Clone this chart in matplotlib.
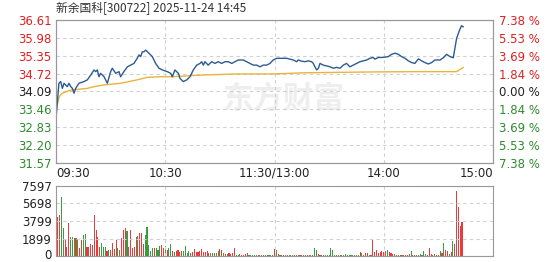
import matplotlib
matplotlib.use("Agg")
import matplotlib.pyplot as plt
from matplotlib.transforms import ScaledTranslation

plt.rcParams['font.family'] = ['DejaVu Sans', 'Noto Sans CJK SC']

TITLE = "新余国科[300722] 2025-11-24 14:45"
PREV_CLOSE = 34.09
price_ticks = [36.61, 35.98, 35.35, 34.72, 34.09, 33.46, 32.83, 32.20, 31.57]
pct_labels = ["7.38 %", "5.53 %", "3.69 %", "1.84 %", "0.00 %", "1.84 %", "3.69 %", "5.53 %", "7.38 %"]
vol_ticks = [0, 1899, 3799, 5698, 7597]
time_labels = ["09:30", "10:30", "11:30/13:00", "14:00", "15:00"]

# minutes since open, price
price_t = [0, 1.6, 2.6, 3.5, 4.4, 5.3, 6.2, 7.1, 8.1, 9, 9.9, 10.8, 12.6, 15.4, 17.2, 19.1,
           20.9, 21.8, 22.7, 23.6, 24.5, 26.4, 28.2, 30, 30.9, 32.8, 34.6, 35.5, 37.3, 39.2,
           41, 42.8, 44.6, 45.6, 46.5, 47.4, 48.3, 49.3, 51, 52.9, 53.8, 54.7, 56.6, 58.4,
           61.1, 63, 63.9, 65.3, 67.2, 68.1, 69.9, 71.8, 73.6, 75.4, 77.3, 79.1, 80, 80.9,
           81.8, 83.6, 85.5, 87.3, 89.1, 91, 92.8, 94.6, 96.5, 98.3, 100.1, 102.9, 104.7,
           106.5, 108.3, 110.2, 112, 113.8, 115.7, 117.5, 119.3, 121.2, 123, 124.8, 126.7,
           128.5, 130.3, 132.2, 133, 134.9, 136.7, 138.5, 140.4, 141.3, 142.2, 143.2, 144.1,
           145, 146.8, 148.7, 150.5, 152.3, 154.1, 156, 157.8, 159.6, 161.4, 163.3, 165.1,
           166.9, 168.8, 170.6, 172.4, 174.2, 175.2, 177, 178.9, 180.7, 182.5, 184.3, 186.2,
           188, 189.8, 191.7, 193.5, 195.3, 197.1, 199, 200.8, 202.6, 204.5, 206.3, 208.1,
           210.9, 212.7, 214.5, 216.4, 218.2, 219.1, 220, 221.3, 222.7, 223.6]
price = [33.14, 34.38, 34.44, 34.20, 34.38, 34.32, 34.26, 34.38, 34.26, 34.20, 34.03, 34.20,
         34.38, 34.44, 34.50, 34.67, 34.85, 34.79, 34.85, 34.61, 34.73, 34.61, 34.38, 34.79,
         34.91, 34.73, 34.79, 34.61, 34.79, 34.96, 35.02, 35.08, 35.26, 35.38, 35.32, 35.49,
         35.49, 35.55, 35.44, 35.32, 35.20, 35.08, 34.91, 34.85, 34.79, 34.73, 34.61, 34.85,
         34.73, 34.55, 34.44, 34.50, 34.61, 34.85, 35.02, 35.08, 35.14, 35.02, 35.14, 35.02,
         35.14, 35.08, 35.14, 35.08, 35.14, 35.14, 35.08, 35.14, 35.20, 35.20, 35.14, 35.08,
         35.02, 35.02, 34.96, 35.02, 35.02, 35.08, 35.20, 35.26, 35.26, 35.26, 35.26, 35.23,
         35.20, 35.14, 35.20, 35.16, 35.14, 35.17, 35.14, 35.08, 34.96, 34.85, 34.91, 35.08,
         35.02, 34.99, 34.96, 34.91, 34.94, 34.91, 35.02, 35.08, 34.96, 35.02, 35.08, 35.14,
         35.17, 35.20, 35.26, 35.29, 35.23, 35.29, 35.29, 35.30, 35.32, 35.40, 35.44, 35.40,
         35.32, 35.26, 35.17, 35.11, 35.08, 35.24, 35.17, 35.11, 35.06, 35.11, 35.20, 35.20,
         35.28, 35.40, 35.32, 35.28, 35.61, 35.96, 36.20, 36.41, 36.37]

avg_t = [0, 1.8, 3.5, 8.1, 17.2, 20.9, 26.4, 35.5, 44.6, 50.1, 57.5, 63.9, 80, 100.1, 120,
         136.7, 175, 200, 220, 223.6]
avg_price = [33.44, 33.91, 34.03, 34.14, 34.20, 34.26, 34.32, 34.38, 34.50, 34.59, 34.61,
             34.61, 34.67, 34.71, 34.71, 34.75, 34.78, 34.79, 34.79, 34.94]

# volume per minute, r = up, g = down
volume = [5180, 4270, 4450, 6370, 3000, 1810, 1010, 3620, 2030, 2030,
          1920, 1920, 1880, 830, 1740, 2280, 2390, 1010, 1010, 1300,
          1200, 4450, 2820, 2100, 1010, 1380, 1010, 1010, 580, 650,
          650, 1450, 720, 1740, 830, 650, 1920, 2820, 3000, 2710,
          1010, 2820, 830, 1010, 2100, 2170, 2530, 2530, 1300, 2280,
          3190, 1200, 540, 830, 900, 830, 650, 1090, 1200, 830,
          1090, 650, 900, 1300, 580, 470, 580, 650, 470, 580,
          540, 1090, 360, 540, 360, 470, 720, 470, 400, 540,
          720, 470, 470, 580, 360, 290, 330, 360, 290, 540,
          800, 650, 360, 220, 180, 290, 180, 290, 830, 140,
          140, 180, 120, 150, 200, 360, 150, 120, 100, 130,
          150, 120, 100, 110, 130, 120, 100, 140, 110, 160,
          720, 650, 180, 120, 100, 130, 110, 150, 120, 100,
          110, 140, 100, 120, 110, 100, 130, 120, 140, 110,
          120, 150, 900, 650, 200, 130, 110, 120, 140, 120,
          150, 900, 600, 150, 120, 110, 130, 110, 120, 220,
          130, 110, 150, 120, 100, 130, 140, 470, 360, 150,
          360, 300, 130, 120, 1740, 470, 650, 300, 470, 560,
          470, 560, 650, 400, 300, 200, 180, 150, 160, 140,
          120, 150, 130, 140, 170, 500, 150, 130, 140, 160,
          180, 140, 500, 170, 160, 870, 180, 150, 170, 140,
          160, 500, 280, 1410, 690, 500, 260, 380, 1590, 1340,
          7020, 5320, 3220, 3660]
vol_color = ("grrggrrrgggrgrrggrrrrrrrrgggrgrrrrggrrrgrrrrrgrrrggggg"
             "rgggrrgrggrgrrrrggg" "grrrrrrrrrrrgrgggrrgrgrrrrgggrrrrgg"
             "gggrrgggrggrrgrgrrgrggrgrgrrggrrggg" "grrgrggggggrgrgggggggrggrgg"
             "rrgrrrrrrrrrgrrrgrgrgrrrrgrrgrggggrrrr" "grrgrgrrgrgrrrrrgrrrrggrrr"
             "rrrrgrrrrrg")

x_pos = list(range(len(volume)))
colors = ['#ea3a3c' if vol_color[i % len(vol_color)] == 'r' else '#3a9c40' for i in x_pos]

fig = plt.figure(figsize=(5.49, 2.62), dpi=100)
ax = fig.add_axes([56 / 549, 1 - 163 / 262, 437 / 549, 143 / 262])
axv = fig.add_axes([56 / 549, 1 - 256 / 262, 437 / 549, 70 / 262])

frame = '#999999'
grid = '#d0d0d0'
for a in (ax, axv):
    for s in a.spines.values():
        s.set_color(frame)
    a.set_xlim(0, 240)
    a.set_xticks([60, 120, 180])
    a.grid(True, color=grid, linestyle=(0, (3, 3)), linewidth=0.8)
    a.tick_params(length=0, labelbottom=False)

def pcolor(v):
    if abs(v - PREV_CLOSE) < 0.001:
        return '#222222'
    return '#e02020' if v > PREV_CLOSE else '#2e8b2e'

ax.set_ylim(price_ticks[-1], price_ticks[0])
ax.set_yticks(price_ticks)
ax.set_yticklabels([f"{v:.2f}" for v in price_ticks], fontsize=8.5)
for lbl, v in zip(ax.get_yticklabels(), price_ticks):
    lbl.set_color(pcolor(v))
ax.tick_params(axis='y', pad=3)

ax2 = ax.twinx()
ax2.set_ylim(ax.get_ylim())
ax2.set_yticks(price_ticks)
ax2.set_yticklabels(pct_labels, fontsize=8.5)
for lbl, v in zip(ax2.get_yticklabels(), price_ticks):
    lbl.set_color(pcolor(v))
ax2.tick_params(length=0, pad=4)
for s in ax2.spines.values():
    s.set_color(frame)

ax.text(0.52, 0.45, "东方财富", transform=ax.transAxes, fontsize=22, fontweight='bold',
        color='#eeeeee', ha='center', va='center', family=['Noto Sans CJK SC'], zorder=0)

ax.plot(avg_t, avg_price, color='#e9b43a', linewidth=1.0, zorder=3)
ax.plot(price_t, price, color='#2c5b94', linewidth=1.0, zorder=4)

axv.bar(x_pos, volume, width=0.6, color=colors, linewidth=0)
axv.set_ylim(0, vol_ticks[-1])
axv.set_yticks(vol_ticks)
axv.set_yticklabels([str(v) for v in vol_ticks], fontsize=8.5, color='#222222')
axv.tick_params(axis='y', pad=3)
# lift the "0" label a little so it stays inside the figure
zero_lbl = axv.get_yticklabels()[0]
zero_lbl.set_transform(zero_lbl.get_transform() + ScaledTranslation(0, 1.5 / 72, fig.dpi_scale_trans))

for i, lab in enumerate(time_labels):
    xt = i * 60
    ha = 'left' if i == 0 else ('right' if i == 4 else 'center')
    ax.text(xt, -0.025, lab, transform=ax.get_xaxis_transform(), ha=ha, va='top',
            fontsize=8.5, color='#222222')

fig.text(56 / 549, 1 - 9 / 262, TITLE, fontsize=8.5, color='#333333', va='center', ha='left',
         family=['Noto Sans CJK SC', 'DejaVu Sans'])

fig.savefig("out.png", dpi=100, facecolor='white')
